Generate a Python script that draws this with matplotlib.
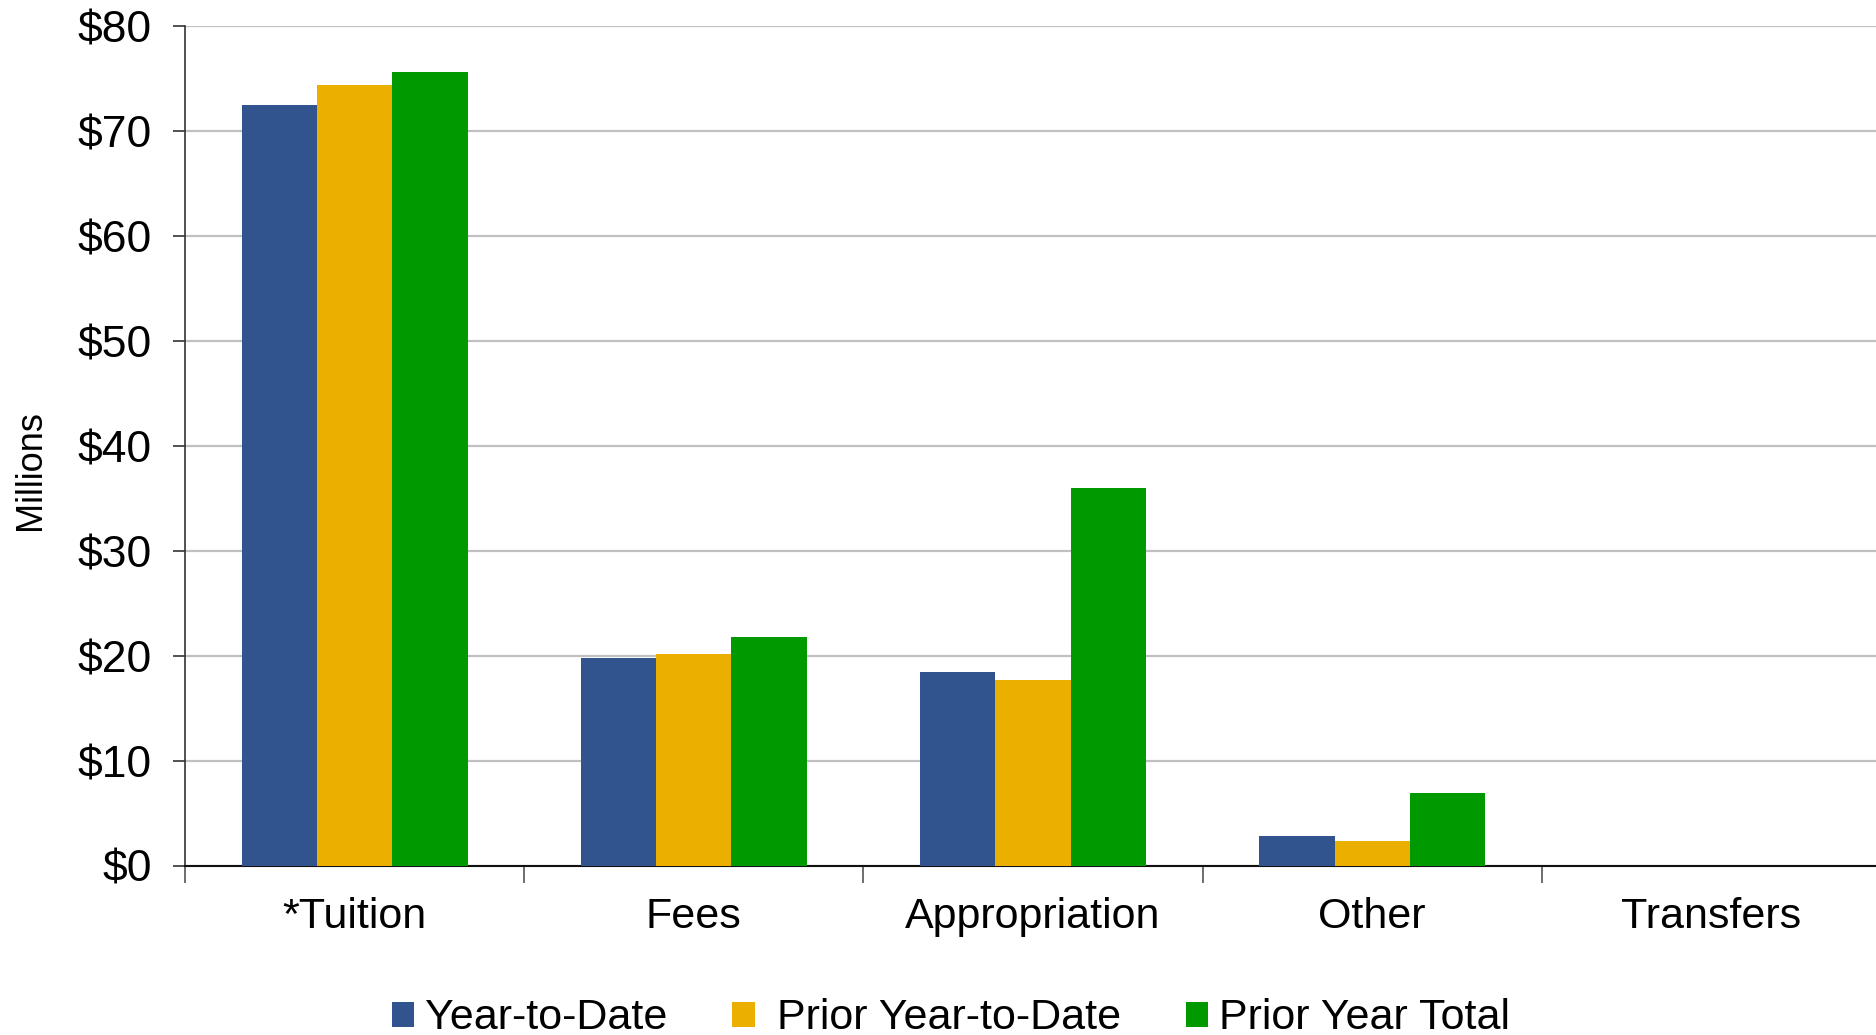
import matplotlib
matplotlib.use('Agg')
import matplotlib.pyplot as plt
import numpy as np

# Data (millions)
categories = ['*Tuition', 'Fees', 'Appropriation', 'Other', 'Transfers']
series_names = ['Year-to-Date', ' Prior Year-to-Date', 'Prior Year Total']
year_to_date = [72.5, 19.8, 18.5, 2.85, 0.0]
prior_ytd = [74.4, 20.2, 17.7, 2.4, 0.0]
prior_total = [75.6, 21.8, 36.0, 6.95, 0.0]
y_ticks = [0, 10, 20, 30, 40, 50, 60, 70, 80]

colors = ['#31548F', '#EBAF00', '#009900']

plt.rcParams['font.family'] = ['Liberation Sans', 'DejaVu Sans']

fig = plt.figure(figsize=(18.76, 10.35), dpi=100)
ax = fig.add_axes([0.0986, 0.1633, 0.9041, 0.8113])

x = np.arange(len(categories))
w = 0.222
for i, vals in enumerate([year_to_date, prior_ytd, prior_total]):
    ax.bar(x + (i - 1) * w, vals, width=w, color=colors[i], label=series_names[i], zorder=3)

ax.set_xlim(-0.5, len(categories) - 0.5)
ax.set_ylim(0, 80)
ax.set_yticks(y_ticks)
ax.set_yticklabels(['$%d' % v for v in y_ticks], fontsize=32)
ax.tick_params(axis='y', length=9, width=1.2, pad=15, color='#333333')

# category labels at centres, tick marks at boundaries
ax.set_xticks(x)
ax.set_xticklabels(categories, fontsize=31)
ax.tick_params(axis='x', which='major', length=0, pad=22)
ax.set_xticks(np.arange(len(categories) + 1) - 0.5, minor=True)
ax.tick_params(axis='x', which='minor', length=12, width=1.2, color='#555555')

ax.yaxis.grid(True, color='#C0C0C0', linewidth=1.6, zorder=0)
ax.set_axisbelow(True)
for s in ['top', 'right']:
    ax.spines[s].set_visible(False)
ax.spines['left'].set_color('#333333')
ax.spines['left'].set_linewidth(1.2)
ax.spines['bottom'].set_color('#111111')
ax.spines['bottom'].set_linewidth(1.5)

fig.text(0.016, 0.546, 'Millions', rotation=90, fontsize=26,
         ha='center', va='center')

fig.legend(loc='center', bbox_to_anchor=(0.507, 0.016), ncol=3, frameon=False,
           prop={'size': 31}, handlelength=0.52, handleheight=0.52,
           handletextpad=0.25, columnspacing=1.5)

fig.savefig('out.png', dpi=100)
